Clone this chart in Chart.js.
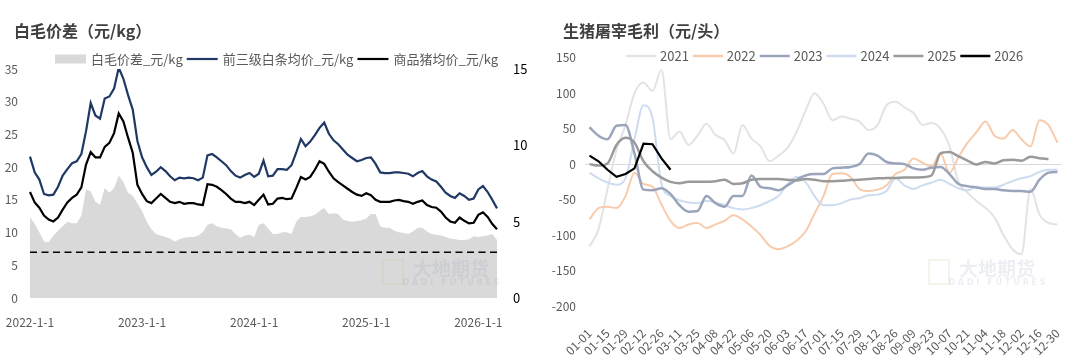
<!DOCTYPE html>
<html><head><meta charset="utf-8">
<script src="https://cdn.jsdelivr.net/npm/chart.js@4.4.1/dist/chart.umd.min.js"></script>
<style>
html,body{margin:0;padding:0;background:#fff;width:1080px;height:358px;overflow:hidden}
#l{position:absolute;left:0;top:0}
#r{position:absolute;left:540px;top:0}
</style></head><body>
<canvas id="l" width="540" height="358"></canvas>
<canvas id="r" width="540" height="358"></canvas>
<script>
const FONT = '"Noto Sans CJK SC", "Noto Sans", sans-serif';

// ---------- Left chart data (half-monthly) ----------
const spreadDates = [
 '2022-01-01','2022-01-16','2022-02-01','2022-02-16','2022-03-01','2022-03-16','2022-04-01','2022-04-16','2022-05-01','2022-05-16','2022-06-01','2022-06-16',
 '2022-07-01','2022-07-16','2022-08-01','2022-08-16','2022-09-01','2022-09-16','2022-10-01','2022-10-16','2022-11-01','2022-11-16','2022-12-01','2022-12-16',
 '2023-01-01','2023-01-16','2023-02-01','2023-02-16','2023-03-01','2023-03-16','2023-04-01','2023-04-16','2023-05-01','2023-05-16','2023-06-01','2023-06-16',
 '2023-07-01','2023-07-16','2023-08-01','2023-08-16','2023-09-01','2023-09-16','2023-10-01','2023-10-16','2023-11-01','2023-11-16','2023-12-01','2023-12-16',
 '2024-01-01','2024-01-16','2024-02-01','2024-02-16','2024-03-01','2024-03-16','2024-04-01','2024-04-16','2024-05-01','2024-05-16','2024-06-01','2024-06-16',
 '2024-07-01','2024-07-16','2024-08-01','2024-08-16','2024-09-01','2024-09-16','2024-10-01','2024-10-16','2024-11-01','2024-11-16','2024-12-01','2024-12-16',
 '2025-01-01','2025-01-16','2025-02-01','2025-02-16','2025-03-01','2025-03-16','2025-04-01','2025-04-16','2025-05-01','2025-05-16','2025-06-01','2025-06-16',
 '2025-07-01','2025-07-16','2025-08-01','2025-08-16','2025-09-01','2025-09-16','2025-10-01','2025-10-16','2025-11-01','2025-11-16','2025-12-01','2025-12-16',
 '2026-01-01','2026-01-16','2026-02-01','2026-02-16','2026-03-01'
];
// 白毛价差 (right axis, 元/kg)
const spreadArea = [
 5.3,4.85,4.3,3.7,3.65,4.1,4.4,4.7,5.0,4.9,
 4.9,5.4,7.1,7.0,6.3,6.1,7.2,6.9,7.2,8.0,
 7.6,6.9,6.7,6.2,5.7,5.0,4.5,4.2,4.1,4.0,
 3.9,3.7,3.85,3.95,4.0,4.0,4.1,4.3,4.8,4.9,
 4.7,4.6,4.55,4.5,4.2,3.95,4.1,4.15,4.0,4.8,
 4.9,4.55,4.2,4.2,4.3,4.3,4.2,5.0,5.3,5.3,
 5.35,5.45,5.7,5.9,5.5,5.55,5.5,5.15,5.05,5.0,
 5.05,5.1,5.2,5.5,5.5,4.7,4.6,4.6,4.4,4.3,
 4.25,4.2,4.35,4.6,4.6,4.35,4.2,4.15,4.1,4.0,
 3.9,3.85,3.8,3.8,3.85,4.05,4.0,4.05,4.1,4.2,3.8
];
// 前三级白条均价 (left axis)
const stripPrice = [
 21.6,19.2,18.1,15.9,15.7,15.8,17.0,18.7,19.7,20.6,
 20.9,22.0,25.5,29.8,27.9,27.4,30.5,30.8,32.0,35.2,
 33.5,31.0,28.8,24.0,21.5,20.0,18.8,19.3,20.0,19.4,
 18.6,18.0,18.4,18.3,18.4,18.3,18.0,18.4,21.8,22.0,
 21.5,20.9,20.3,19.4,18.7,18.4,18.8,19.1,18.5,19.0,
 21.0,18.6,18.7,19.7,19.7,19.6,20.3,22.2,24.3,23.2,
 23.9,24.9,26.0,26.8,25.1,24.1,23.5,22.7,21.9,21.4,
 20.9,21.1,21.4,21.5,20.5,19.2,19.1,19.1,19.2,19.2,
 19.1,19.0,18.6,19.1,19.4,18.6,18.1,17.8,17.0,16.1,
 15.6,15.3,16.0,15.6,15.0,15.2,16.6,17.1,16.2,15.0,13.7
];
// 商品猪均价 (left axis)
const hogPrice = [
 16.2,14.6,13.8,12.6,12.0,11.7,12.3,13.5,14.6,15.3,
 15.8,16.9,20.4,22.3,21.5,21.5,23.1,23.7,25.2,28.2,
 27.0,24.5,22.2,17.3,15.9,14.8,14.5,15.2,15.9,15.3,
 14.7,14.5,14.7,14.4,14.5,14.5,14.3,14.2,17.4,17.3,
 17.0,16.5,15.9,15.2,14.7,14.7,14.5,14.7,14.2,15.0,
 15.8,14.3,14.4,15.2,15.3,15.1,15.2,16.8,18.5,18.1,
 18.5,19.6,20.9,20.5,19.3,18.3,17.7,17.2,16.7,16.2,
 15.8,15.6,16.0,15.7,15.0,14.7,14.7,14.7,14.9,15.0,
 14.8,14.7,14.4,14.7,14.9,14.2,13.9,13.8,13.2,12.3,
 11.7,11.5,12.3,11.8,11.4,11.5,12.7,13.1,12.4,11.3,10.5
];
const spreadRef = 3;          // dashed reference level, right-axis units
const leftTicks = [0, 35, 5]; // min, max, step
const rightTicks = [0, 15, 5];

// ---------- Right chart data (weekly) ----------
const weekLabels = ['01-01','01-08','01-15','01-22','01-29','02-05','02-12','02-19','02-26','03-04','03-11','03-18','03-25',
 '04-01','04-08','04-15','04-22','04-29','05-06','05-13','05-20','05-27','06-03','06-10','06-17','06-24',
 '07-01','07-08','07-15','07-22','07-29','08-05','08-12','08-19','08-26','09-02','09-09','09-16','09-23','09-30',
 '10-07','10-14','10-21','10-28','11-04','11-11','11-18','11-25','12-02','12-09','12-16','12-23','12-30'];
const years = ['2021','2022','2023','2024','2025','2026'];
const m2021 = [-116,-92,-35,20,55,100,115,103,133,35,46,27,40,57,41,34,15,55,36,25,4,12,23,45,75,100,85,62,67,64,60,48,55,83,88,80,72,55,58,50,25,-25,-40,-52,-62,-75,-100,-120,-127,-35,-71,-83,-85];
const m2022 = [-78,-62,-60,-62,-45,-12,-28,-32,-57,-80,-90,-85,-83,-90,-85,-80,-72,-78,-88,-100,-115,-120,-116,-108,-95,-70,-45,-14,-13,-18,-35,-38,-36,-30,-14,-8,8,2,-3,15,-12,10,30,45,60,40,36,48,35,25,62,55,30];
const m2023 = [52,40,35,54,55,15,-36,-37,-34,-42,-58,-67,-66,-45,-55,-60,-45,-45,-16,-32,-34,-37,-30,-22,-16,-14,-14,-6,-5,-4,0,15,12,3,1,0,-6,-8,-5,-4,-14,-28,-31,-33,-35,-35,-37,-38,-38,-39,-22,-12,-11];
const m2024 = [-12,-20,-26,-29,-20,35,83,65,-28,-45,-51,-54,-55,-52,-54,-58,-62,-64,-62,-58,-52,-45,-28,-18,-25,-45,-58,-58,-55,-50,-48,-44,-43,-38,-20,-30,-35,-30,-26,-22,-28,-34,-37,-32,-33,-33,-29,-24,-20,-17,-11,-8,-8];
const m2025 = [0,-2,1,27,37,30,4,-10,-19,-25,-27,-25,-25,-25,-24,-22,-28,-27,-22,-21,-21,-21,-22,-23,-21,-22,-24,-24,-23.5,-22.5,-22,-21,-20,-19.7,-19.5,-19,-18.8,-18.5,-16,15,17,11,5,-0.5,3,1,5.5,6,4.7,10.5,8.4,7,null];
const m2026 = [12,4,-8,-18,-14,-6,29,28,8,-8];
const marginAxis = [-200, 150, 50];

Chart.defaults.font.family = FONT;
Chart.defaults.animation = false;

// title + legend drawn from the dataset styles
const header = (cfg) => ({
  id: 'header',
  afterDraw(chart) {
    const c = chart.ctx; c.save();
    c.textBaseline = 'middle'; c.textAlign = 'left';
    c.fillStyle = '#404040'; c.font = 'bold 16px ' + FONT;
    c.fillText(cfg.title, cfg.titleX, cfg.titleY);
    c.font = '13px ' + FONT;
    let x = cfg.legendX; const y = cfg.legendY;
    chart.data.datasets.forEach(ds => {
      if (ds.fill === 'origin') {
        c.fillStyle = ds.backgroundColor; c.fillRect(x, y - 4.5, cfg.sampleW, 9);
      } else {
        c.strokeStyle = ds.borderColor; c.lineWidth = cfg.legendLineW || ds.borderWidth;
        c.beginPath(); c.moveTo(x, y); c.lineTo(x + cfg.sampleW, y); c.stroke();
      }
      x += cfg.sampleW + cfg.gap1;
      c.fillStyle = '#595959'; c.fillText(ds.label, x, y + 0.5);
      x += c.measureText(ds.label).width + cfg.gap2;
    });
    c.restore();
  }
});

const watermark = (cx) => ({
  id: 'wm',
  afterDatasetsDraw(chart) {
    const c = chart.ctx; c.save();
    c.fillStyle = 'rgba(140,150,180,0.16)';
    c.textAlign = 'center'; c.textBaseline = 'middle';
    c.font = 'bold 19px ' + FONT;
    c.fillText('大地期货', cx, 269);
    c.font = 'bold 8px "DejaVu Sans", sans-serif';
    c.fillText('D A D I   F U T U R E S', cx, 283);
    c.strokeStyle = 'rgba(200,190,140,0.18)'; c.lineWidth = 2;
    c.strokeRect(cx - 68, 260, 20, 24);
    c.restore();
  }
});

const refLine = {
  id: 'refLine',
  afterDatasetsDraw(chart) {
    const y = chart.scales.y2.getPixelForValue(spreadRef);
    const {left, right} = chart.chartArea;
    const c = chart.ctx; c.save();
    c.strokeStyle = '#000'; c.lineWidth = 1.5; c.setLineDash([7, 4.5]);
    c.beginPath(); c.moveTo(left, y); c.lineTo(right, y); c.stroke();
    c.restore();
  }
};

const noHPad = (h) => (s) => { s.height = h; s.paddingLeft = 0; s.paddingRight = 0; };
const hiddenGrid = { display: false, drawTicks: false };

new Chart(document.getElementById('l'), {
  type: 'line',
  data: {
    labels: spreadDates,
    datasets: [
      { label: '白毛价差_元/kg', data: spreadArea, yAxisID: 'y2', fill: 'origin',
        backgroundColor: '#d9d9d9', borderColor: '#d9d9d9', borderWidth: 0, pointRadius: 0, tension: 0 },
      { label: '前三级白条均价_元/kg', data: stripPrice, yAxisID: 'y', fill: false,
        borderColor: '#1f3864', backgroundColor: '#1f3864', borderWidth: 2.2, pointRadius: 0, tension: 0 },
      { label: '商品猪均价_元/kg', data: hogPrice, yAxisID: 'y', fill: false,
        borderColor: '#000000', backgroundColor: '#000000', borderWidth: 2.2, pointRadius: 0, tension: 0 }
    ]
  },
  options: {
    responsive: false, devicePixelRatio: 1,
    layout: { padding: { left: 0, right: 0, top: 69, bottom: 0 } },
    plugins: {
      filler: { drawTime: 'beforeDatasetsDraw' },
      tooltip: { enabled: false },
      title: { display: false },
      legend: { display: false }
    },
    scales: {
      x: { type: 'category', grid: hiddenGrid, border: { display: false },
        ticks: { autoSkip: false, maxRotation: 0, minRotation: 0, color: '#595959', font: { size: 12 }, padding: 17,
          callback: (v) => spreadDates[v].slice(0, 4) + '-1-1' },
        afterBuildTicks: (s) => { s.ticks = s.ticks.filter(t => spreadDates[t.value].endsWith('-01-01')); },
        afterFit: noHPad(60) },
      y: { position: 'left', min: leftTicks[0], max: leftTicks[1],
        ticks: { stepSize: leftTicks[2], color: '#595959', font: { size: 12 }, padding: 12 },
        grid: hiddenGrid, border: { display: false },
        afterFit: (s) => { s.width = 30; } },
      y2: { position: 'right', min: rightTicks[0], max: rightTicks[1],
        ticks: { stepSize: rightTicks[2], color: '#000', font: { size: 13 }, padding: 16 },
        grid: hiddenGrid, border: { display: false },
        afterFit: (s) => { s.width = 43; } }
    }
  },
  plugins: [refLine, watermark(451),
    header({ title: '白毛价差（元/kg）', titleX: 14, titleY: 31, legendX: 55, legendY: 59,
             sampleW: 31, gap1: 5, gap2: 4 })]
});

const yearColors = ['#e3e3e3', '#f8cbad', '#9aa4bb', '#cddcf0', '#9a9a9a', '#000000'];
const yearWidths = [2, 2, 2.5, 2, 2.5, 2.2];
const yearOrder = [5, 4, 2, 3, 1, 0];
const yearData = [m2021, m2022, m2023, m2024, m2025, m2026];

new Chart(document.getElementById('r'), {
  type: 'line',
  data: {
    labels: weekLabels,
    datasets: years.map((y, i) => ({
      label: y, data: yearData[i], borderColor: yearColors[i], backgroundColor: yearColors[i],
      borderWidth: yearWidths[i], pointRadius: 0,
      fill: false, tension: i === 5 ? 0 : 0.4, cubicInterpolationMode: i === 5 ? 'default' : 'monotone',
      order: yearOrder[i]
    }))
  },
  options: {
    responsive: false, devicePixelRatio: 1,
    layout: { padding: { left: 0, right: 0, top: 57.7, bottom: 0 } },
    plugins: {
      tooltip: { enabled: false },
      title: { display: false },
      legend: { display: false }
    },
    scales: {
      x: { type: 'category', offset: true, grid: hiddenGrid, border: { display: false },
        ticks: { autoSkip: false, minRotation: 45, maxRotation: 45, color: '#595959', font: { size: 12 }, padding: 20 },
        afterBuildTicks: (s) => { s.ticks = s.ticks.filter(t => t.value % 2 === 0); },
        afterFit: noHPad(52) },
      y: { position: 'left', min: marginAxis[0], max: marginAxis[1],
        ticks: { stepSize: marginAxis[2], color: '#595959', font: { size: 12 }, padding: 9 },
        grid: { drawTicks: false, lineWidth: 1,
          color: (ctx) => (ctx.tick && ctx.tick.value === 0) ? '#d9d9d9' : 'rgba(0,0,0,0)' },
        border: { display: false },
        afterFit: (s) => { s.width = 45; } },
      pad: { position: 'right', min: 0, max: 1, ticks: { display: false },
        grid: hiddenGrid, border: { display: false },
        afterFit: (s) => { s.width = 18; } }
    }
  },
  plugins: [watermark(457),
    header({ title: '生猪屠宰毛利（元/头）', titleX: 23, titleY: 31, legendX: 86, legendY: 56,
             sampleW: 30, gap1: 4, gap2: 4, legendLineW: 2.5 })]
});
</script>
</body></html>
